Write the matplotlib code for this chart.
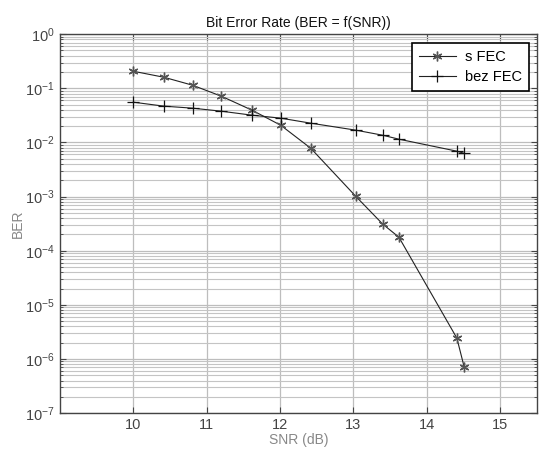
import matplotlib
matplotlib.use("Agg")
import matplotlib.pyplot as plt
from matplotlib.ticker import FixedLocator, NullFormatter, LogFormatterSciNotation

plt.rcParams['font.family'] = ['Liberation Sans', 'DejaVu Sans']

snr_fec = [10, 10.42, 10.81, 11.2, 11.62, 12.01, 12.42, 13.03, 13.4, 13.62, 14.41, 14.51]
ber_fec = [0.207, 0.16, 0.114, 0.0716, 0.0394, 0.0208, 0.0078, 1.02e-3, 3.1e-4, 1.78e-4, 2.43e-6, 7.1e-7]

snr_nofec = [10, 10.42, 10.81, 11.2, 11.62, 12.01, 12.42, 13.03, 13.4, 13.62, 14.41, 14.51]
ber_nofec = [0.0555, 0.0468, 0.043, 0.0378, 0.0319, 0.0281, 0.0227, 0.0169, 0.0136, 0.0115, 0.0069, 0.0063]

xticks = [10, 11, 12, 13, 14, 15]
yticks = [1e-7, 1e-6, 1e-5, 1e-4, 1e-3, 1e-2, 1e-1, 1e0]
title = "Bit Error Rate (BER = f(SNR))"
labels = ["s FEC", "bez FEC"]

fig = plt.figure(figsize=(5.39, 4.5), dpi=100)
ax = fig.add_axes([0.111, 0.082, 0.885, 0.842])

ax.set_yscale('log')
ax.set_xlim(9, 15.5)
ax.set_ylim(1e-7, 1)

asterisk = (6, 2, 0)
ax.plot(snr_fec, ber_fec, color='#222222', lw=0.8, marker=asterisk, ms=7,
        mec='#555555', mew=1.0, label=labels[0])
ax.plot(snr_nofec, ber_nofec, color='#222222', lw=0.8, marker='+', ms=9,
        mec='#111111', mew=0.9, label=labels[1])

ax.xaxis.set_major_locator(FixedLocator(xticks))
ax.yaxis.set_major_locator(FixedLocator(yticks))
ax.yaxis.set_major_formatter(LogFormatterSciNotation())
minor = [m * d for d in yticks[:-1] for m in range(2, 10)]
ax.yaxis.set_minor_locator(FixedLocator(minor))
ax.yaxis.set_minor_formatter(NullFormatter())

ax.grid(True, which='major', color='#bdbdbd', lw=0.9, ls='-')
ax.grid(True, which='minor', axis='y', color='#c4c4c4', lw=0.8, ls='-')
ax.set_axisbelow(True)

ax.tick_params(which='both', direction='in', top=True, right=True, colors='#444444',
               labelcolor='#444444', labelsize=10.5)
ax.tick_params(which='major', length=4, width=0.8)
ax.tick_params(which='minor', length=2.5, width=0.6)
for s in ax.spines.values():
    s.set_color('#444444')
    s.set_linewidth(1.0)

ax.set_title(title, fontsize=10, color='#111111', pad=5)
ax.set_xlabel("SNR (dB)", fontsize=10, color='#888888', labelpad=1)
ax.set_ylabel("BER", fontsize=10, color='#888888', labelpad=0)

leg = ax.legend(loc='upper right', bbox_to_anchor=(0.983, 0.976), borderaxespad=0,
                fancybox=False, edgecolor='black', framealpha=1, fontsize=10.5,
                handlelength=2.6, handletextpad=0.6, borderpad=0.45, labelspacing=0.45)
leg.get_frame().set_linewidth(1.2)

fig.savefig("out.png", dpi=100)
